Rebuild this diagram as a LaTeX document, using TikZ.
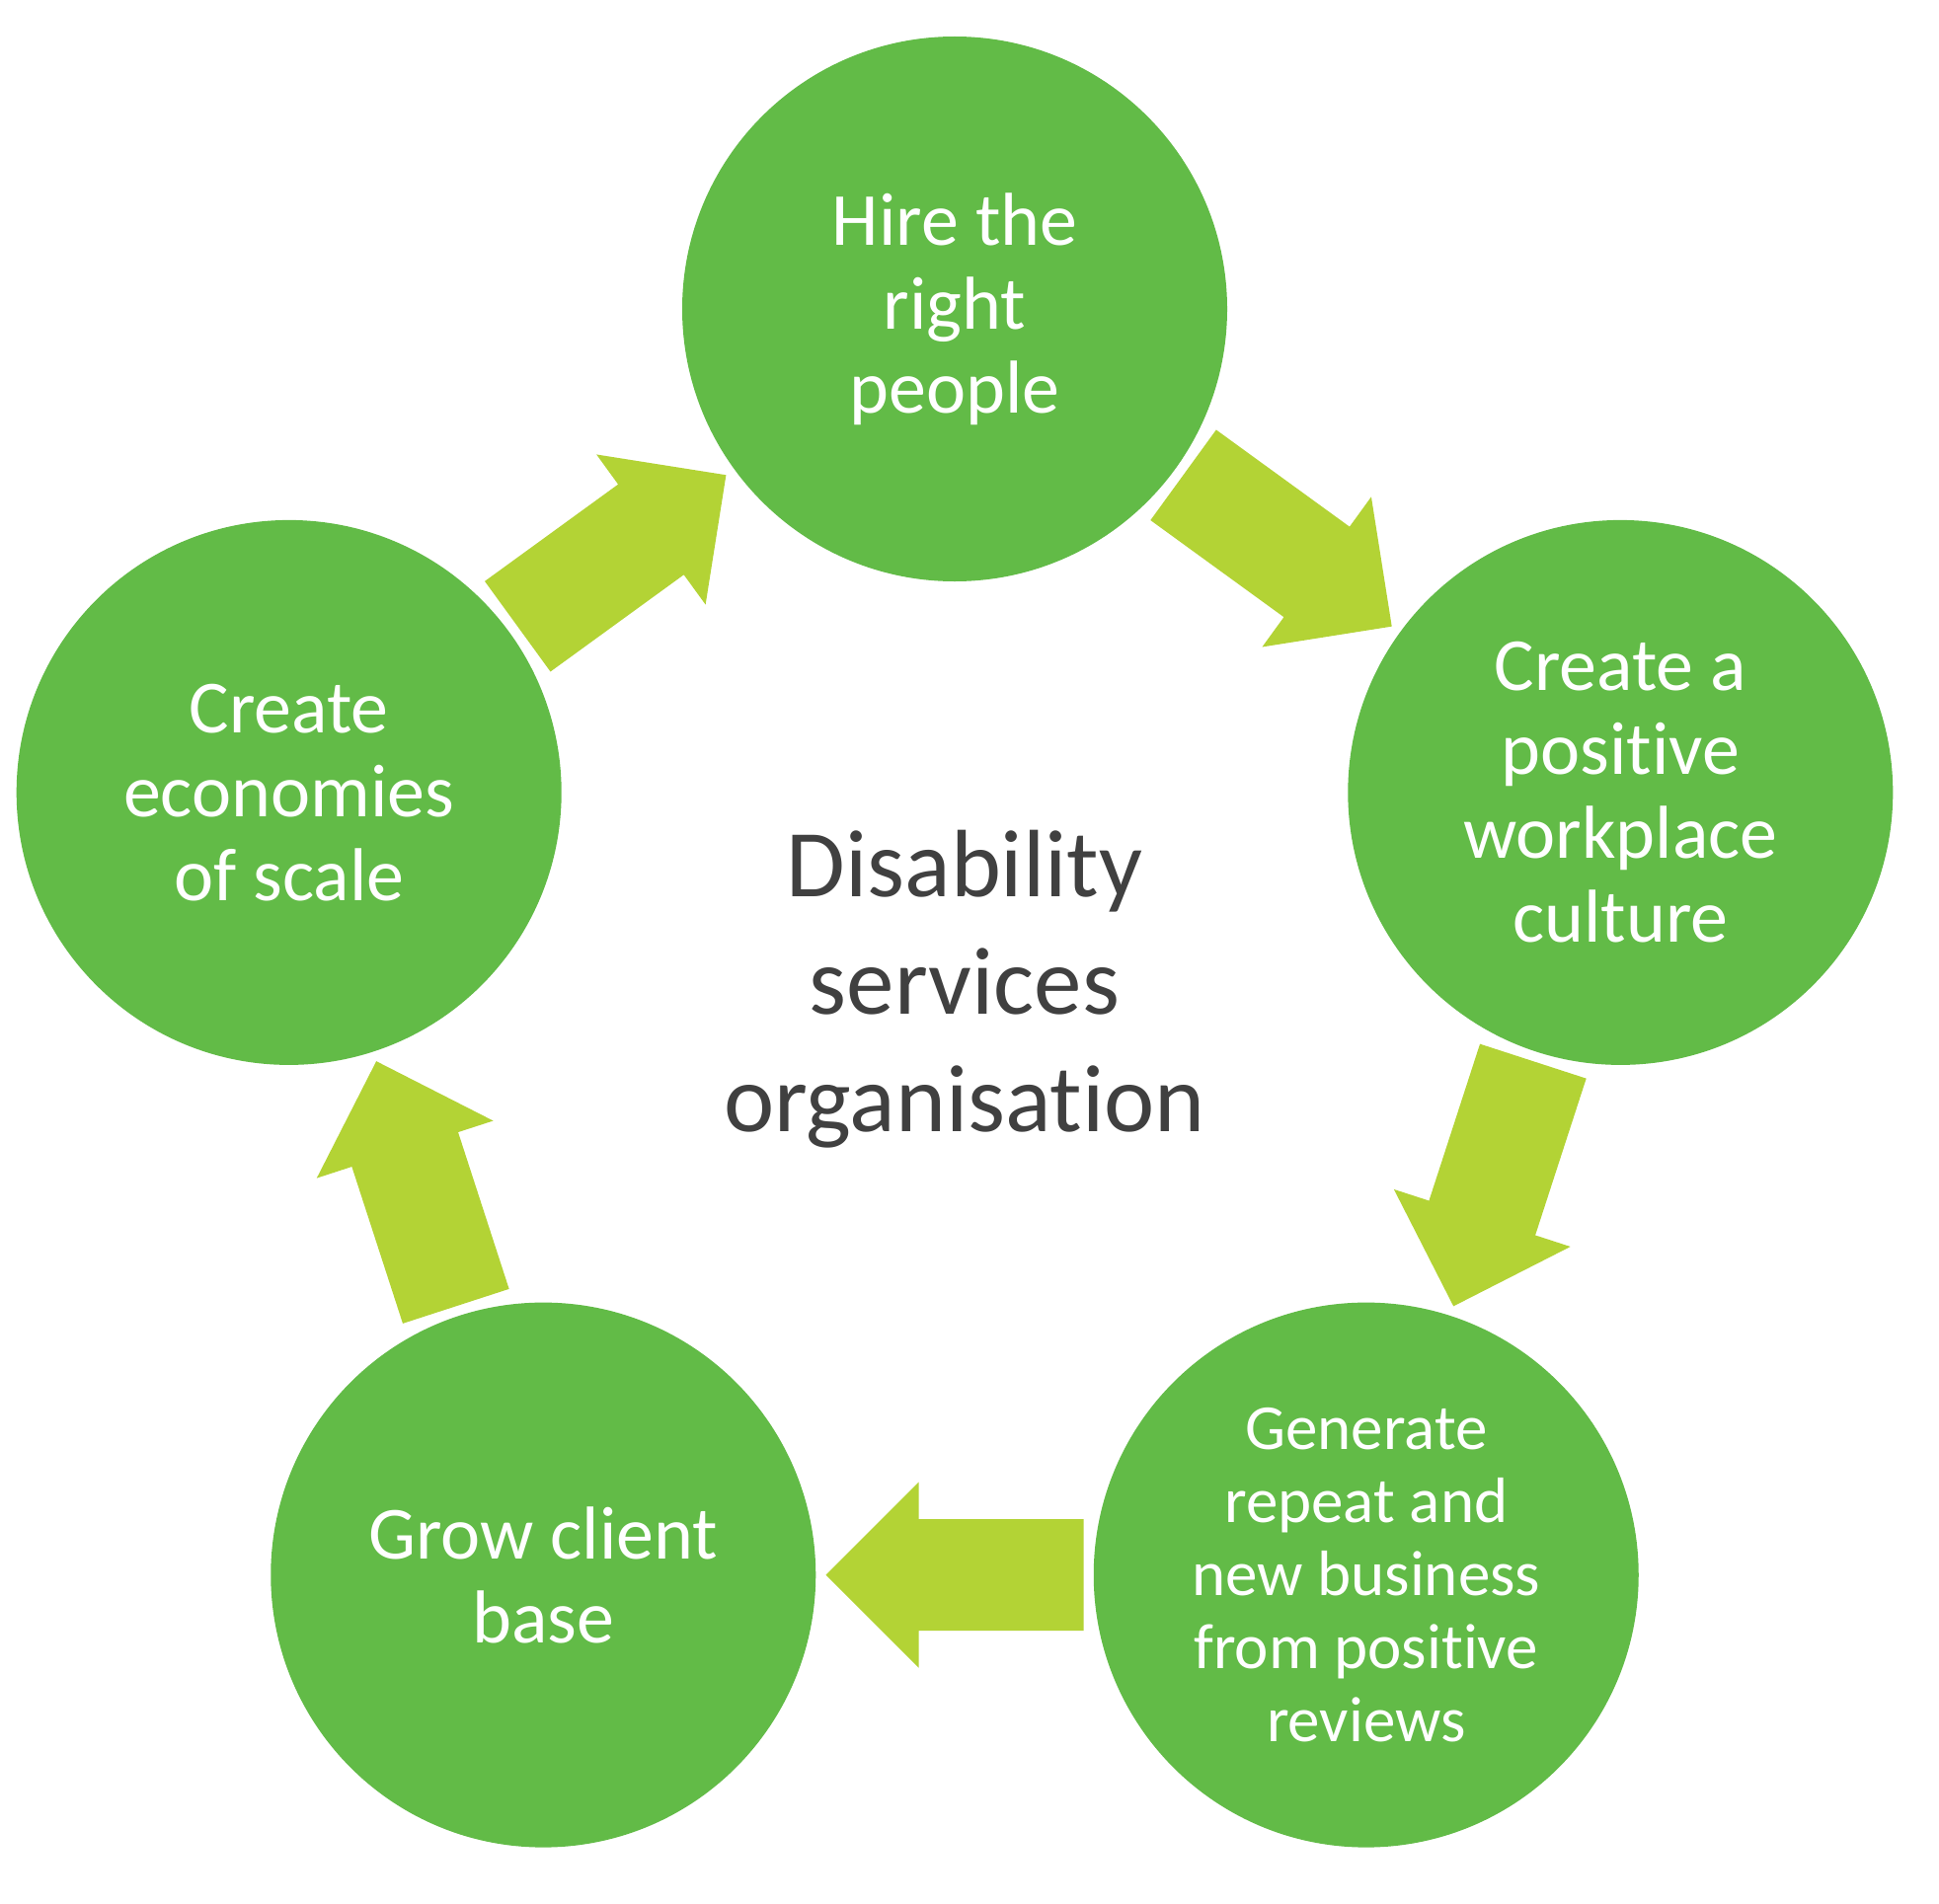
\documentclass[tikz,border=0pt]{standalone}
\usepackage{fontspec}
\setmainfont{Carlito}[RawFeature={-liga;-dlig}]
\usetikzlibrary{calc}
\definecolor{cgreen}{HTML}{62BB47}
\definecolor{agreen}{HTML}{B3D335}
\definecolor{tgray}{HTML}{404040}
\newcommand\blockarrow[3]{%
  \begin{scope}[shift={($(#1)!0.5!(#2)$)}, rotate=#3]
    \fill[barrow] (-130.5,-56.6) -- (36.5,-56.6) -- (36.5,-94) -- (130.5,0)
      -- (36.5,94) -- (36.5,56.6) -- (-130.5,56.6) -- cycle;
  \end{scope}}
\begin{document}
\begin{tikzpicture}[x=1pt,y=1pt,
  stage/.style={circle, fill=cgreen, minimum size=552pt, inner sep=0pt,
    text=white, align=center, font=\fontsize{76}{85}\selectfont},
  barrow/.style={fill=agreen}]
\useasboundingbox (0,0) rectangle (1964,-1929);
\coordinate (ctr) at (967,-1022);
\node[stage] (hire) at ($(ctr)+(90:709pt)$) {Hire the\\right\\people};
\node[stage] (culture) at ($(ctr)+(18:709pt)$) {Create a\\positive\\workplace\\culture};
\node[stage, font=\fontsize{65}{74}\selectfont] (business) at ($(ctr)+(-54:709pt)$) {Generate\\repeat and\\new business\\from positive\\reviews};
\node[stage] (client) at ($(ctr)+(-126:709pt)$) {Grow client\\base};
\node[stage] (scale) at ($(ctr)+(162:709pt)$) {Create\\economies\\of scale};
\node[text=tgray, align=center, font=\fontsize{97}{119}\selectfont] (title) at (977,-1002) {Disability\\services\\organisation};
\blockarrow{hire}{culture}{-36}
\blockarrow{culture}{business}{-108}
\blockarrow{business}{client}{180}
\blockarrow{client}{scale}{108}
\blockarrow{scale}{hire}{36}
\end{tikzpicture}
\end{document}
